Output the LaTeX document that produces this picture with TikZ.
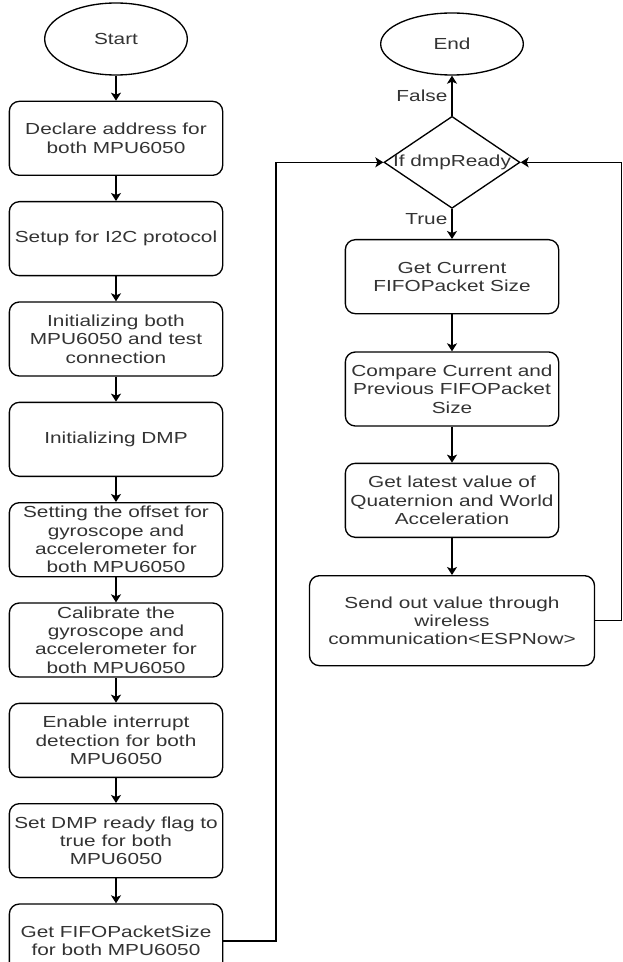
\documentclass[tikz,border=0pt]{standalone}
\usepackage{fontspec}
\setmainfont[FakeStretch=1.3]{Liberation Sans}
\usetikzlibrary{positioning, shapes.geometric, arrows.meta}

\tikzset{
    txt/.style={font=\fontsize{12}{13.75}\selectfont, text=black!80},
    box/.style={txt, draw, rounded corners=7.5pt, align=center,
        minimum width=160pt, minimum height=55.5pt, inner sep=1pt},
    term/.style={txt, draw, ellipse, minimum width=107pt},
    cond/.style={draw, diamond, minimum width=102pt, minimum height=69pt, inner sep=0pt},
    arr/.style={-{Stealth[length=6pt, width=7.5pt, inset=1.5pt]}},
}

\begin{document}
\begin{tikzpicture}[line width=1pt, node distance=18.75pt]
\clip (0,0) rectangle (466.5pt,-721.5pt);
% left column
\node[term, minimum height=54pt] (start) at (87pt,-29.25pt) {Start};
\node[box, below=of start] (L1) {Declare address for\\both MPU6050};
\node[box, below=of L1] (L2) {Setup for I2C protocol};
\node[box, below=of L2] (L3) {Initializing both\\MPU6050 and test\\connection};
\node[box, below=of L3] (L4) {Initializing DMP};
\node[box, below=of L4] (L5) {Setting the offset for\\gyroscope and\\accelerometer for\\both MPU6050};
\node[box, below=of L5] (L6) {Calibrate the\\gyroscope and\\accelerometer for\\both MPU6050};
\node[box, below=of L6] (L7) {Enable interrupt\\detection for both\\MPU6050};
\node[box, below=of L7] (L8) {Set DMP ready flag to\\true for both\\MPU6050};
\node[box, below=of L8] (L9) {Get FIFOPacketSize\\for both MPU6050};
% right column
\node[term, minimum height=46.5pt] (stop) at (339pt,-33pt) {End};
\node[cond, below=30pt of stop, label={[txt]center:If dmpReady}] (dec) {};
\node[box, below=22.5pt of dec] (R1) {Get Current\\FIFOPacket Size};
\node[box, below=27.75pt of R1] (R2) {Compare Current and\\Previous FIFOPacket\\Size};
\node[box, below=27pt of R2] (R3) {Get latest value of\\Quaternion and World\\Acceleration};
\node[box, below=27.75pt of R3, minimum width=213.75pt, minimum height=67.5pt] (R4)
    {Send out value through\\wireless\\communication<ESPNow>};

\foreach \a/\b in {start/L1, L1/L2, L2/L3, L3/L4, L4/L5, L5/L6, L6/L7, L7/L8, L8/L9,
    R1/R2, R2/R3, R3/R4}
    \draw[arr] (\a) -- (\b);
\draw[arr] (dec.north) -- node[txt, left, inner sep=3pt] {False} (stop.south);
\draw[arr] (dec.south) -- node[txt, left, pos=0.33, inner sep=3pt] {True} (R1.north);
\draw[arr] (L9.east) -- ++(39.5pt,0) |- (dec.west);
\draw[arr] (R4.east) -- ++(19.5pt,0) |- (dec.east);
\end{tikzpicture}
\end{document}
